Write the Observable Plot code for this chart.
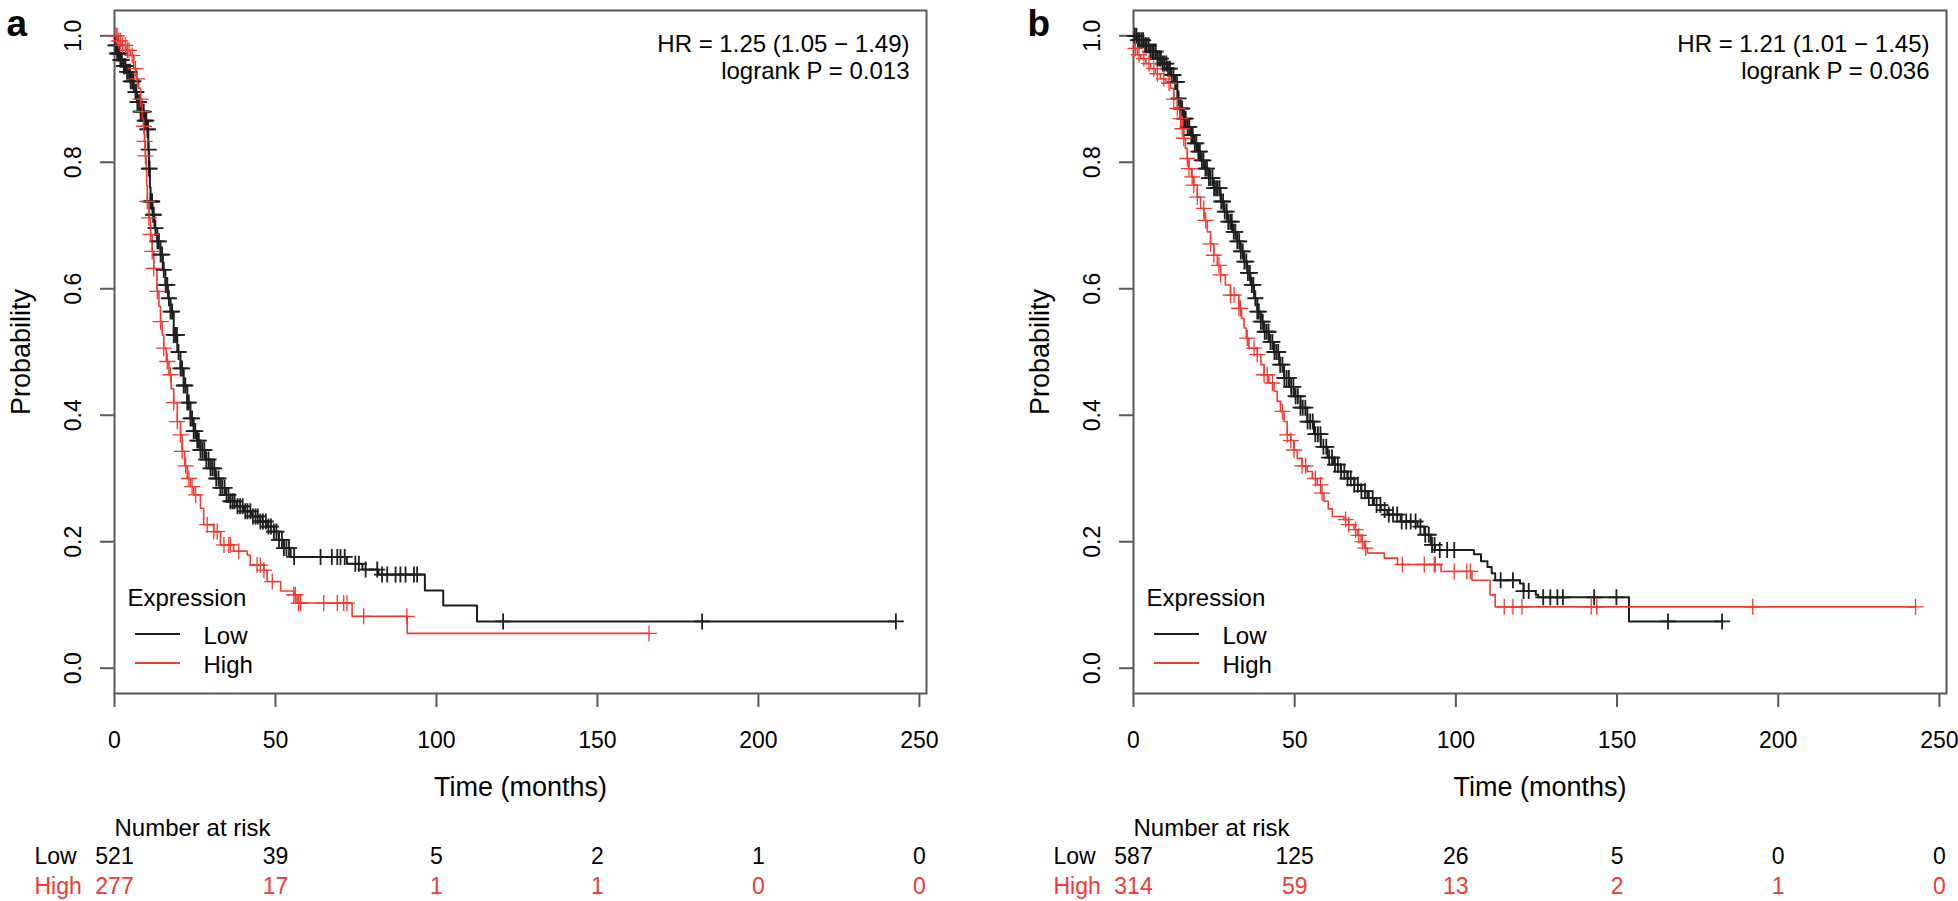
<!DOCTYPE html>
<html><head><meta charset="utf-8">
<script src="https://cdn.jsdelivr.net/npm/d3@7"></script>
<script src="https://cdn.jsdelivr.net/npm/@observablehq/plot@0.6"></script>
<style>
html,body{margin:0;padding:0;background:#fff;}
#wrap{display:flex;width:1958px;height:901px;overflow:hidden;}
#wrap > div{width:979px;height:901px;}
svg{display:block;}
</style></head>
<body><div id="wrap"><div id="pa"></div><div id="pb"></div></div>
<script>
// ---------- data ----------
const timeTicks = [0, 50, 100, 150, 200, 250];
const probTicks = [0, 0.2, 0.4, 0.6, 0.8, 1.0];
const groups = ["Low", "High"];

// Panel a
const riskA_low  = [521, 39, 5, 2, 1, 0];
const riskA_high = [277, 17, 1, 1, 0, 0];
const statsA = ["HR = 1.25 (1.05 \u2212 1.49)", "logrank P = 0.013"];
const stepsA_low = [[0,1.0],[0.3,0.985],[0.8,0.972],[1.8,0.962],[2.8,0.952],[3.9,0.943],[5.0,0.928],[6.0,0.911],[7.0,0.895],[8.1,0.88],[9.2,0.866],[10.2,0.852],[10.5,0.82],[10.7,0.79],[11.0,0.76],[11.2,0.738],[11.8,0.717],[12.4,0.696],[13.3,0.675],[14.3,0.654],[15.0,0.63],[15.8,0.606],[16.6,0.585],[17.4,0.564],[18.4,0.527],[19.5,0.50],[20.5,0.474],[21.5,0.447],[22.6,0.42],[23.6,0.395],[24.6,0.375],[25.6,0.36],[26.7,0.345],[28.2,0.33],[29.8,0.316],[31.3,0.30],[32.9,0.285],[34.4,0.274],[36.0,0.264],[38.0,0.256],[40.2,0.248],[42.7,0.24],[45.3,0.232],[47.5,0.224],[49.5,0.216],[51.0,0.203],[52.6,0.19],[54.7,0.176],[72.2,0.165],[77.0,0.156],[82.0,0.148],[96.4,0.123],[102.1,0.099],[112.6,0.074],[242.7,0.074]];
const stepsA_high = [[0,1.0],[1.0,0.992],[1.9,0.985],[3.5,0.977],[5.0,0.969],[6.0,0.948],[6.8,0.932],[7.5,0.917],[8.1,0.9],[8.6,0.88],[9.0,0.857],[9.3,0.833],[9.6,0.81],[9.8,0.79],[10.0,0.763],[10.2,0.738],[10.7,0.712],[11.2,0.686],[11.7,0.659],[12.2,0.632],[13.2,0.596],[13.8,0.572],[14.3,0.548],[14.8,0.527],[15.3,0.506],[16.1,0.485],[16.9,0.464],[17.6,0.442],[18.4,0.42],[19.5,0.39],[20.5,0.369],[21.0,0.343],[21.8,0.32],[22.6,0.30],[23.6,0.287],[24.6,0.274],[26.7,0.253],[27.7,0.227],[30.8,0.216],[32.9,0.195],[37.0,0.185],[41.2,0.179],[42.2,0.163],[46.4,0.155],[47.4,0.137],[51.6,0.122],[55.7,0.116],[56.7,0.103],[73.8,0.082],[90.9,0.055],[166.0,0.055]];
const censA_low = [0.3,0.6,0.8,1.2,1.5,1.8,2.3,2.9,3.1,3.4,3.9,4.5,4.8,5.0,5.5,5.9,6.5,6.8,7.1,7.6,8.1,8.4,8.6,9.1,9.4,9.6,9.9,10.2,10.4,10.6,10.7,10.9,11.2,11.5,11.7,12.0,12.2,12.7,13.3,13.8,14.3,14.8,15.3,15.9,16.4,16.9,17.4,17.9,18.4,18.9,19.4,19.9,20.5,21.0,21.5,22.0,22.6,23.1,23.6,24.1,24.6,25.1,25.7,26.2,26.7,27.3,27.9,28.5,29.2,29.8,30.4,31.0,31.6,32.3,32.9,33.5,34.2,34.8,35.4,36.0,36.7,37.3,38.2,39.0,39.8,40.6,41.3,42.2,43.0,43.8,44.5,45.3,46.1,47.0,47.8,48.6,49.5,50.3,51.1,52.0,52.6,53.4,54.2,55.8,64.0,67.5,69.2,70.2,71.5,74.8,75.9,78.0,81.6,83.1,84.7,87.3,88.8,90.4,93.0,94.0,120.7,182.5,242.7];
const censA_high = [0.5,0.8,1.3,1.8,2.5,3.4,4.0,4.5,5.5,6.5,7.1,8.1,8.6,9.1,9.4,9.6,10.2,10.7,11.2,11.7,12.2,13.3,14.3,15.3,16.4,17.4,18.4,19.5,20.5,21.0,22.1,23.1,24.1,25.2,28.8,30.8,31.9,34.0,35.5,36.0,38.6,44.3,45.3,46.4,49.0,55.7,56.2,57.2,57.8,65.0,69.2,71.2,72.2,77.4,90.8,166.0];

// Panel b
const riskB_low  = [587, 125, 26, 5, 0, 0];
const riskB_high = [314, 59, 13, 2, 1, 0];
const statsB = ["HR = 1.21 (1.01 \u2212 1.45)", "logrank P = 0.036"];
const stepsB_low = [[0,1.0],[1.0,0.993],[3.1,0.985],[5.2,0.975],[7.4,0.964],[9.0,0.956],[10.5,0.948],[11.5,0.938],[12.5,0.927],[13.6,0.901],[14.6,0.885],[15.6,0.869],[16.7,0.856],[17.7,0.843],[18.8,0.83],[19.8,0.817],[20.8,0.803],[21.8,0.79],[23.4,0.775],[24.9,0.759],[27.0,0.738],[28.0,0.722],[29.1,0.706],[30.6,0.69],[32.2,0.675],[33.2,0.659],[34.3,0.643],[35.3,0.625],[36.3,0.606],[37.4,0.585],[38.4,0.564],[39.5,0.548],[40.5,0.532],[42.0,0.516],[43.6,0.5],[45.2,0.48],[46.7,0.459],[48.3,0.445],[49.8,0.43],[51.8,0.412],[53.9,0.39],[56.0,0.37],[58.1,0.35],[60.2,0.333],[62.2,0.322],[64.3,0.311],[66.4,0.30],[68.5,0.29],[70.6,0.28],[72.6,0.269],[74.6,0.258],[76.7,0.25],[78.8,0.243],[82.9,0.232],[88.1,0.224],[90.2,0.211],[92.2,0.195],[93.5,0.187],[105.6,0.18],[107.8,0.169],[109.8,0.16],[111.1,0.15],[112.2,0.139],[119.9,0.134],[121.0,0.122],[124.8,0.116],[125.5,0.112],[153.7,0.074],[182.6,0.074]];
const stepsB_high = [[0,1.0],[0.5,0.98],[1.2,0.97],[2.2,0.964],[3.8,0.956],[5.3,0.948],[6.8,0.94],[8.4,0.932],[10.0,0.925],[11.5,0.917],[12.5,0.9],[13.6,0.885],[14.4,0.869],[15.1,0.853],[15.6,0.838],[16.1,0.822],[16.7,0.806],[17.2,0.79],[18.0,0.777],[18.7,0.764],[19.8,0.745],[20.8,0.727],[21.9,0.708],[22.9,0.69],[23.9,0.671],[24.9,0.653],[26.0,0.637],[27.0,0.622],[28.5,0.606],[30.1,0.59],[32.7,0.569],[33.5,0.553],[34.3,0.538],[35.0,0.522],[35.8,0.506],[38.4,0.496],[39.5,0.48],[40.5,0.464],[42.0,0.451],[43.6,0.438],[44.6,0.422],[45.6,0.406],[46.7,0.39],[47.7,0.369],[48.8,0.36],[49.8,0.345],[50.8,0.332],[52.3,0.32],[53.9,0.311],[55.5,0.30],[57.0,0.29],[58.1,0.277],[59.1,0.264],[60.4,0.252],[61.7,0.24],[65.3,0.235],[66.8,0.227],[68.4,0.219],[69.5,0.21],[70.6,0.20],[71.6,0.19],[72.6,0.182],[77.8,0.174],[81.9,0.164],[95.4,0.153],[105.0,0.139],[110.6,0.116],[112.2,0.097],[242.6,0.097]];
const censB_low = [0.4,0.9,1.4,1.9,2.5,3.0,3.6,4.1,4.7,5.2,5.8,6.3,6.9,7.4,8.0,8.5,9.1,9.6,10.2,10.7,11.3,11.8,12.4,12.9,13.5,14.0,14.6,15.1,15.7,16.2,16.8,17.3,17.9,18.4,19.0,19.5,20.1,20.6,21.2,21.7,22.3,22.8,23.4,23.9,24.5,25.0,25.6,26.1,26.7,27.2,27.8,28.3,28.9,29.4,30.0,30.5,31.1,31.6,32.2,32.8,33.3,33.9,34.4,35.0,35.5,36.1,36.7,37.2,37.8,38.4,38.9,39.5,40.1,40.7,41.3,41.9,42.5,43.1,43.7,44.3,44.9,45.5,46.2,46.8,47.5,48.2,48.9,49.6,50.3,51.0,51.8,52.5,53.3,54.0,54.8,55.6,56.4,57.2,58.0,58.9,59.8,60.7,61.6,62.5,63.4,64.4,65.4,66.4,67.4,68.5,69.6,70.7,71.8,73.0,74.2,75.4,76.6,77.9,79.2,80.5,81.8,83.2,84.6,86.0,87.5,89.0,90.5,91.6,92.6,93.4,95.0,97.3,99.5,113.9,117.7,121.0,122.6,127.1,129.3,131.5,133.2,142.9,149.8,165.8,182.6];
const censB_high = [0.6,1.7,3.2,4.8,6.3,7.4,9.4,11.0,12.5,13.6,14.6,15.1,15.6,16.7,17.2,18.2,18.7,19.8,21.8,22.4,23.9,24.9,26.5,27.0,30.1,31.2,32.7,33.2,35.3,37.4,38.4,40.5,41.5,43.1,46.2,47.7,48.8,49.8,52.3,53.4,56.4,58.0,58.5,65.8,66.8,68.9,69.9,71.0,72.0,83.4,90.2,93.3,93.6,99.5,103.4,104.5,115.0,117.7,120.5,142.0,143.7,192.1,242.6];

// ---------- styles ----------
const BLACK = "#1e1e1e";
const RED = "#ee3b33";
const BOX = "#5a5a5a";
const FONT = "'Liberation Sans', Arial, Helvetica, sans-serif";

function survAt(steps, t) {
  let s = steps[0][1];
  for (const [tt, ss] of steps) { if (tt <= t) s = ss; else break; }
  return s;
}

const plusSymbol = {
  draw(ctx, size) {
    const r = Math.sqrt(size / Math.PI);
    ctx.moveTo(-r, 0); ctx.lineTo(r, 0);
    ctx.moveTo(0, -r); ctx.lineTo(0, r);
  }
};

function legendSwatches(colors) {
  return (index, scales, values, dims) => {
    const g = d3.create("svg:g");
    const x0 = dims.marginLeft;
    const yb = dims.height - dims.marginBottom;
    const ups = [59, 30];
    colors.forEach((c, i) => {
      g.append("line")
        .attr("x1", x0 + 21).attr("x2", x0 + 66)
        .attr("y1", yb - ups[i]).attr("y2", yb - ups[i])
        .attr("stroke", c).attr("stroke-width", 2);
    });
    return g.node();
  };
}

function panel(cfg) {
  const lowC = cfg.censLow.map(t => [t, survAt(cfg.stepsLow, t)]);
  const highC = cfg.censHigh.map(t => [t, survAt(cfg.stepsHigh, t)]);
  return Plot.plot({
    width: 979, height: 901,
    marginLeft: cfg.marginLeft, marginRight: cfg.marginRight,
    marginTop: 10, marginBottom: 208,
    style: {fontFamily: FONT, background: "white", overflow: "visible", color: "black"},
    x: {domain: [0, 252.2], axis: null},
    y: {domain: [-0.04, 1.04], axis: null},
    marks: [
      Plot.axisX({ticks: timeTicks, tickSize: 14, tickFormat: () => "", stroke: BOX, strokeWidth: 2, label: null}),
      Plot.axisY({ticks: probTicks, tickSize: 14, tickFormat: () => "", stroke: BOX, strokeWidth: 2, label: null}),
      Plot.frame({stroke: BOX, strokeWidth: 2}),
      // tick labels
      Plot.text(timeTicks, {x: d => d, text: d => String(d), frameAnchor: "bottom", lineAnchor: "bottom", dy: 54, fontSize: 23, fill: "black"}),
      Plot.text(probTicks, {y: d => d, text: d => d.toFixed(1), frameAnchor: "left", rotate: -90, textAnchor: "middle", lineAnchor: "bottom", dx: -34, fontSize: 23, fill: "black"}),
      // axis titles
      Plot.text(["Time (months)"], {text: d => d, frameAnchor: "bottom", lineAnchor: "bottom", dy: 102, fontSize: 27, fill: "black"}),
      Plot.text(["Probability"], {text: d => d, frameAnchor: "left", rotate: -90, textAnchor: "middle", lineAnchor: "bottom", dx: -85, fontSize: 27, fill: "black"}),
      // panel letter
      Plot.text([cfg.letter], {text: d => d, frameAnchor: "top-left", textAnchor: "start", lineAnchor: "bottom", dx: cfg.letterDx, dy: 25, fontSize: 37, fontWeight: "bold", fill: "black"}),
      // curves
      Plot.line(cfg.stepsLow, {x: d => d[0], y: d => d[1], curve: "step-after", stroke: BLACK, strokeWidth: 2}),
      Plot.line(cfg.stepsHigh, {x: d => d[0], y: d => d[1], curve: "step-after", stroke: RED, strokeWidth: 1.6}),
      Plot.dot(lowC, {x: d => d[0], y: d => d[1], symbol: plusSymbol, r: 8, fill: "none", stroke: BLACK, strokeWidth: 1.8}),
      Plot.dot(highC, {x: d => d[0], y: d => d[1], symbol: plusSymbol, r: 8, fill: "none", stroke: RED, strokeWidth: 1.3}),
      // stats
      Plot.text([cfg.stats[0]], {text: d => d, frameAnchor: "top-right", textAnchor: "end", lineAnchor: "bottom", dx: -17, dy: 41, fontSize: 24, fill: "black"}),
      Plot.text([cfg.stats[1]], {text: d => d, frameAnchor: "top-right", textAnchor: "end", lineAnchor: "bottom", dx: -17, dy: 68, fontSize: 24, fill: "black"}),
      // legend
      Plot.text(["Expression"], {text: d => d, frameAnchor: "bottom-left", textAnchor: "start", lineAnchor: "bottom", dx: 13, dy: -88, fontSize: 24, fill: "black"}),
      Plot.text([groups[0]], {text: d => d, frameAnchor: "bottom-left", textAnchor: "start", lineAnchor: "bottom", dx: 89, dy: -50, fontSize: 24, fill: "black"}),
      Plot.text([groups[1]], {text: d => d, frameAnchor: "bottom-left", textAnchor: "start", lineAnchor: "bottom", dx: 89, dy: -21, fontSize: 24, fill: "black"}),
      legendSwatches([BLACK, RED]),
      // risk table
      Plot.text(["Number at risk"], {text: d => d, frameAnchor: "bottom-left", textAnchor: "start", lineAnchor: "bottom", dy: 142, fontSize: 24, fill: "black"}),
      Plot.text([groups[0]], {text: d => d, frameAnchor: "bottom-left", textAnchor: "start", lineAnchor: "bottom", dx: -80, dy: 170, fontSize: 23, fill: "black"}),
      Plot.text([groups[1]], {text: d => d, frameAnchor: "bottom-left", textAnchor: "start", lineAnchor: "bottom", dx: -80, dy: 200, fontSize: 23, fill: RED}),
      Plot.text(timeTicks, {x: d => d, text: (d, i) => String(cfg.riskLow[i]), frameAnchor: "bottom", lineAnchor: "bottom", dy: 170, fontSize: 23, fill: "black"}),
      Plot.text(timeTicks, {x: d => d, text: (d, i) => String(cfg.riskHigh[i]), frameAnchor: "bottom", lineAnchor: "bottom", dy: 200, fontSize: 23, fill: RED})
    ]
  });
}

document.getElementById("pa").appendChild(panel({
  letter: "a", letterDx: -108, marginLeft: 114, marginRight: 53,
  stepsLow: stepsA_low, stepsHigh: stepsA_high, censLow: censA_low, censHigh: censA_high,
  riskLow: riskA_low, riskHigh: riskA_high, stats: statsA
}));
document.getElementById("pb").appendChild(panel({
  letter: "b", letterDx: -106, marginLeft: 154, marginRight: 12,
  stepsLow: stepsB_low, stepsHigh: stepsB_high, censLow: censB_low, censHigh: censB_high,
  riskLow: riskB_low, riskHigh: riskB_high, stats: statsB
}));
</script>
</body></html>
